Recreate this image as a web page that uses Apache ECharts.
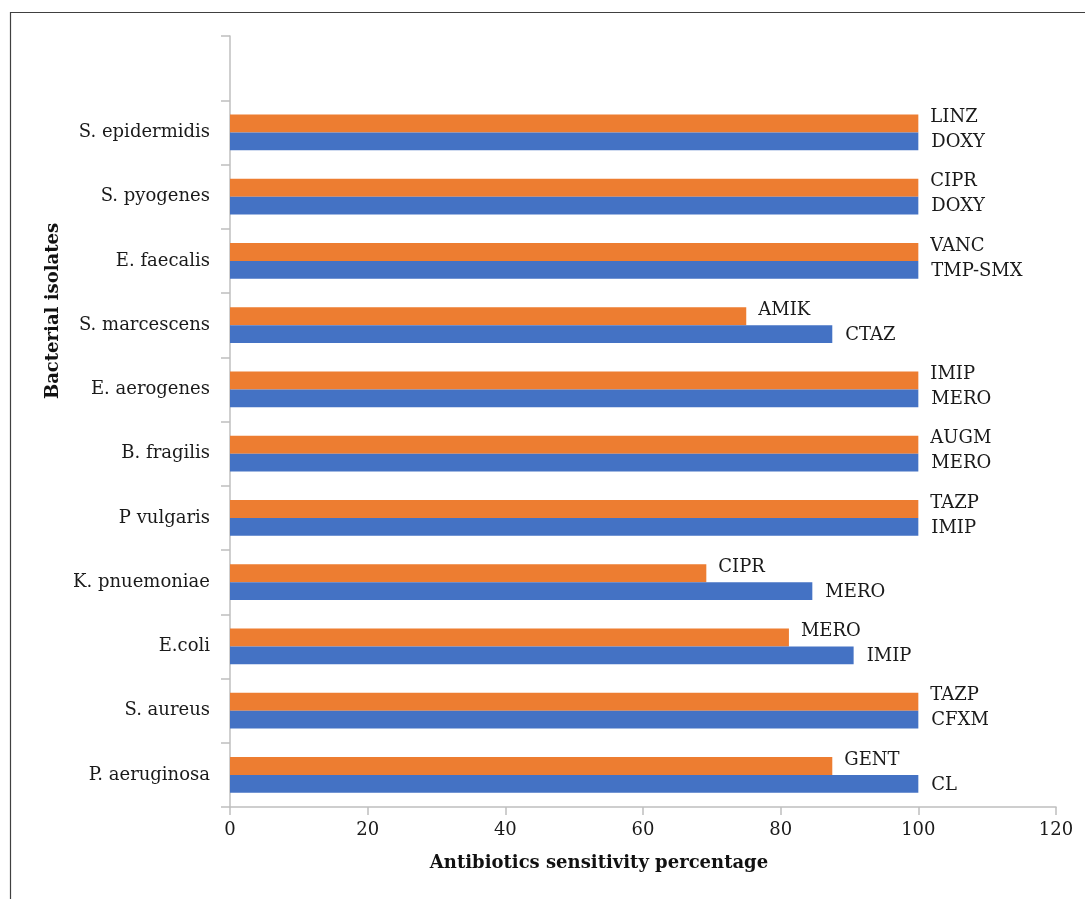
<!DOCTYPE html>
<html>
<head>
<meta charset="utf-8">
<script src="https://cdn.jsdelivr.net/npm/echarts@6/dist/echarts.min.js"></script>
<style>
  html, body { margin: 0; padding: 0; background: #ffffff; }
  #chart { width: 1085px; height: 899px; }
</style>
</head>
<body>
<div id="chart"></div>
<script>
// Bacterial isolates, bottom to top; the last slot is left empty above the top bars.
const isolates = [
  'P. aeruginosa', 'S. aureus', 'E.coli', 'K. pnuemoniae', 'P vulgaris',
  'B. fragilis', 'E. aerogenes', 'S. marcescens', 'E. faecalis', 'S. pyogenes',
  'S. epidermidis', ''
];

// Most effective antibiotic per isolate (blue) and its sensitivity percentage
const firstDrug = ['CL', 'CFXM', 'IMIP', 'MERO', 'IMIP', 'MERO', 'MERO', 'CTAZ', 'TMP-SMX', 'DOXY', 'DOXY', ''];
const firstPct  = [100, 100, 90.6, 84.6, 100, 100, 100, 87.5, 100, 100, 100, null];

// Second antibiotic per isolate (orange) and its sensitivity percentage
const secondDrug = ['GENT', 'TAZP', 'MERO', 'CIPR', 'TAZP', 'AUGM', 'IMIP', 'AMIK', 'VANC', 'CIPR', 'LINZ', ''];
const secondPct  = [87.5, 100, 81.2, 69.2, 100, 100, 100, 75, 100, 100, 100, null];

const xTicks = { min: 0, max: 120, interval: 20 };

const FONT = 'DejaVu Serif';
const TEXT = '#1a1a1a';
const AXIS = '#bfbfbf';

const chart = echarts.init(document.getElementById('chart'), null, { renderer: 'canvas' });

chart.setOption({
  animation: false,
  backgroundColor: '#ffffff',
  textStyle: { fontFamily: FONT },
  grid: { left: 230, right: 29, top: 36, bottom: 92, containLabel: false },
  xAxis: {
    type: 'value',
    min: xTicks.min, max: xTicks.max, interval: xTicks.interval,
    splitLine: { show: false },
    axisLine: { show: true, lineStyle: { color: AXIS, width: 1.5 } },
    axisTick: { show: true, length: 8, lineStyle: { color: AXIS, width: 1.5 } },
    axisLabel: { color: TEXT, fontFamily: FONT, fontSize: 18, margin: 14 }
  },
  yAxis: {
    type: 'category',
    data: isolates,
    axisLine: { show: true, lineStyle: { color: AXIS, width: 1.5 } },
    axisTick: { show: true, length: 9, lineStyle: { color: AXIS, width: 1.5 } },
    axisLabel: { color: TEXT, fontFamily: FONT, fontSize: 18, margin: 20 },
    splitLine: { show: false }
  },
  series: [
    // Listed first so it sits on the upper half of each category band
    {
      name: 'Second antibiotic',
      type: 'bar',
      data: secondPct,
      barGap: '0%',
      barCategoryGap: '44%',
      itemStyle: { color: '#ED7D31' },
      label: {
        show: true, position: 'right', distance: 12, offset: [0, -6],
        fontFamily: FONT, fontSize: 18, color: TEXT,
        formatter: p => secondDrug[p.dataIndex]
      }
    },
    {
      name: 'First antibiotic',
      type: 'bar',
      data: firstPct,
      barGap: '0%',
      barCategoryGap: '44%',
      itemStyle: { color: '#4472C4' },
      label: {
        show: true, position: 'right', distance: 13, offset: [0, 1],
        fontFamily: FONT, fontSize: 18, color: TEXT,
        formatter: p => firstDrug[p.dataIndex]
      }
    }
  ],
  graphic: [
    {
      type: 'rect', silent: true, z: -1,
      shape: { x: 10.5, y: 12.5, width: 1200, height: 1000 },
      style: { fill: null, stroke: '#404040', lineWidth: 1.2 }
    },
    {
      type: 'text', silent: true,
      x: 53, y: 311, rotation: Math.PI / 2,
      style: {
        text: 'Bacterial isolates', fill: '#111',
        font: 'bold 18px "DejaVu Serif"', align: 'center', verticalAlign: 'middle'
      }
    },
    {
      type: 'text', silent: true,
      x: 599, y: 863,
      style: {
        text: 'Antibiotics sensitivity percentage', fill: '#111',
        font: 'bold 18px "DejaVu Serif"', align: 'center', verticalAlign: 'middle'
      }
    }
  ]
});
</script>
</body>
</html>
